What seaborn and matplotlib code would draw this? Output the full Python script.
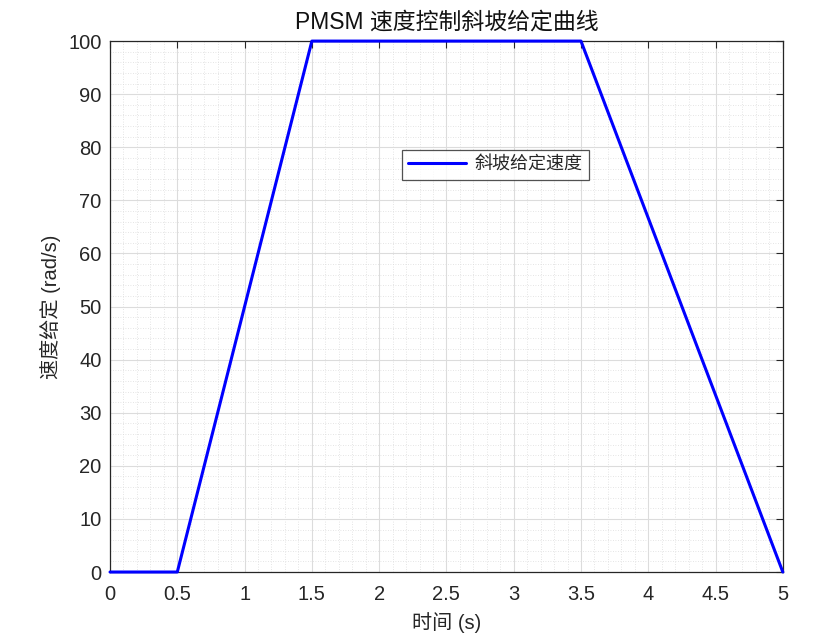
import numpy as np
import pandas as pd
import matplotlib
matplotlib.use("Agg")
import matplotlib.pyplot as plt
import seaborn as sns
from matplotlib.ticker import MultipleLocator

sns.set_theme(style="whitegrid")
plt.rcParams['font.family'] = ['Liberation Sans', 'Noto Sans CJK SC', 'DejaVu Sans']
plt.rcParams['axes.unicode_minus'] = False

# ramp speed reference
time_s = [0, 0.5, 1.5, 3.5, 5]
speed = [0, 0, 100, 100, 0]
x_ticks = [0, 0.5, 1, 1.5, 2, 2.5, 3, 3.5, 4, 4.5, 5]
y_ticks = [0, 10, 20, 30, 40, 50, 60, 70, 80, 90, 100]

df = pd.DataFrame({"t": time_s, "w": speed})

fig = plt.figure(figsize=(8.18, 6.42), dpi=100)
ax = fig.add_axes([0.1345, 0.109, 0.8225, 0.827])
ax.set_facecolor("white")

sns.lineplot(data=df, x="t", y="w", ax=ax, color=(0, 0, 1), linewidth=2.2,
             label="斜坡给定速度", sort=False)
for ln in ax.get_lines():
    ln.set_clip_on(False)
    ln.set_zorder(5)

ax.set_xlim(0, 5)
ax.set_ylim(0, 100)
ax.set_xticks(x_ticks)
ax.set_xticklabels([f"{v:g}" for v in x_ticks])
ax.set_yticks(y_ticks)
ax.xaxis.set_minor_locator(MultipleLocator(0.1))
ax.yaxis.set_minor_locator(MultipleLocator(2))

ax.grid(which="major", color="#dcdcdc", linewidth=0.8, linestyle="-")
ax.grid(which="minor", color="#dcdcdc", linewidth=0.6, linestyle=(0, (1, 2)))
ax.set_axisbelow(True)

for s in ax.spines.values():
    s.set_visible(True)
    s.set_color("#262626")
    s.set_linewidth(0.9)

ax.tick_params(which="major", direction="in", length=5, width=0.8, color="#262626",
               top=True, right=True, labelsize=14.5, labelcolor="#262626", pad=6)
ax.tick_params(axis="x", which="major", pad=9)
ax.tick_params(which="minor", length=0)

ax.set_xlabel("时间 (s)", fontsize=14.5, color="#262626", labelpad=6)
ax.set_ylabel("速度给定 (rad/s)", fontsize=14.5, color="#262626", labelpad=5)
ax.set_title("PMSM 速度控制斜坡给定曲线", fontsize=16.5, color="#111111", pad=9)

leg = ax.legend(loc="upper left", bbox_to_anchor=(0.420, 0.812), fontsize=13,
                frameon=True, fancybox=False, borderpad=0.35, handlelength=3.2,
                handletextpad=0.5)
leg.get_frame().set_edgecolor("#262626")
leg.get_frame().set_linewidth(0.9)
for t in leg.get_texts():
    t.set_color("#262626")

fig.savefig("out.png", dpi=100, facecolor="white")
